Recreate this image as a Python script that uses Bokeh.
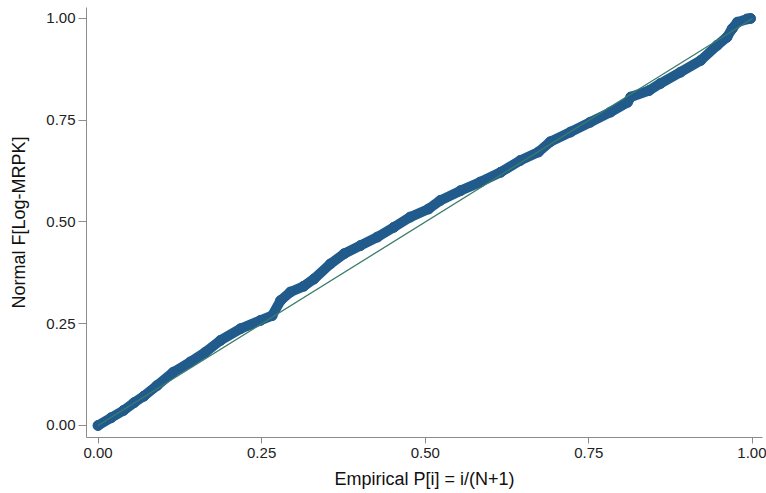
from bokeh.plotting import figure
from bokeh.models import Range1d, FixedTicker
from bokeh.embed import file_html
from bokeh.resources import INLINE

# Empirical P[i] (x) vs Normal F[Log-MRPK] (y)
emp_p = [0.000, 0.020, 0.039, 0.055, 0.070, 0.090, 0.115, 0.141, 0.164, 0.187,
         0.218, 0.248, 0.266, 0.279, 0.294, 0.314, 0.330, 0.355, 0.376, 0.401,
         0.427, 0.452, 0.477, 0.505, 0.523, 0.554, 0.584, 0.615, 0.645, 0.673,
         0.691, 0.722, 0.752, 0.783, 0.809, 0.814, 0.842, 0.859, 0.890, 0.921,
         0.946, 0.961, 0.969, 0.977, 0.992, 0.997]
normal_f = [0.000, 0.019, 0.037, 0.056, 0.072, 0.098, 0.131, 0.156, 0.180, 0.209,
            0.238, 0.258, 0.270, 0.307, 0.328, 0.342, 0.360, 0.397, 0.422, 0.442,
            0.463, 0.487, 0.512, 0.532, 0.553, 0.577, 0.598, 0.622, 0.651, 0.672,
            0.697, 0.721, 0.745, 0.770, 0.794, 0.807, 0.823, 0.840, 0.868, 0.897,
            0.934, 0.954, 0.975, 0.991, 0.999, 1.000]

ref_x = [0.0, 1.0]
ref_y = [0.0, 1.0]

ticks = [0.0, 0.25, 0.5, 0.75, 1.0]
tick_labels = {0.0: "0.00", 0.25: "0.25", 0.5: "0.50", 0.75: "0.75", 1.0: "1.00"}

p = figure(width=766, height=493, output_backend="svg", toolbar_location=None,
           x_range=Range1d(-0.0176, 1.0153), y_range=Range1d(-0.0295, 1.027),
           min_border_left=86, min_border_right=4, min_border_top=7,
           min_border_bottom=56)
p.outline_line_color = None
p.grid.visible = False
p.background_fill_color = "white"
p.border_fill_color = "white"

blue = "#215b8c"
p.line(emp_p, normal_f, line_width=10, line_color=blue, line_cap="round",
       line_join="round")
p.scatter(emp_p, normal_f, size=10, fill_color=blue, line_color=blue)
p.line(ref_x, ref_y, line_width=1.3, line_color="#3b7c6c")

font = "Liberation Sans"
for ax in (p.xaxis[0], p.yaxis[0]):
    ax.ticker = FixedTicker(ticks=ticks)
    ax.major_label_overrides = tick_labels
    ax.minor_tick_line_color = None
    ax.axis_line_color = "#8c8c8c"
    ax.major_tick_line_color = "#8c8c8c"
    ax.major_tick_in = 0
    ax.major_label_text_font = font
    ax.major_label_text_font_size = "15px"
    ax.major_label_text_color = "#222222"
    ax.axis_label_text_font = font
    ax.axis_label_text_font_size = "18px"
    ax.axis_label_text_font_style = "normal"
    ax.axis_label_text_color = "#111111"

p.xaxis.major_tick_out = 6
p.yaxis.major_tick_out = 8
p.xaxis.major_label_standoff = 4
p.yaxis.major_label_standoff = 3
p.xaxis.axis_label = "Empirical P[i] = i/(N+1)"
p.yaxis.axis_label = "Normal F[Log-MRPK]"
p.xaxis.axis_label_standoff = 8
p.yaxis.axis_label_standoff = 14

open("out.html", "w").write(file_html(p, INLINE))
